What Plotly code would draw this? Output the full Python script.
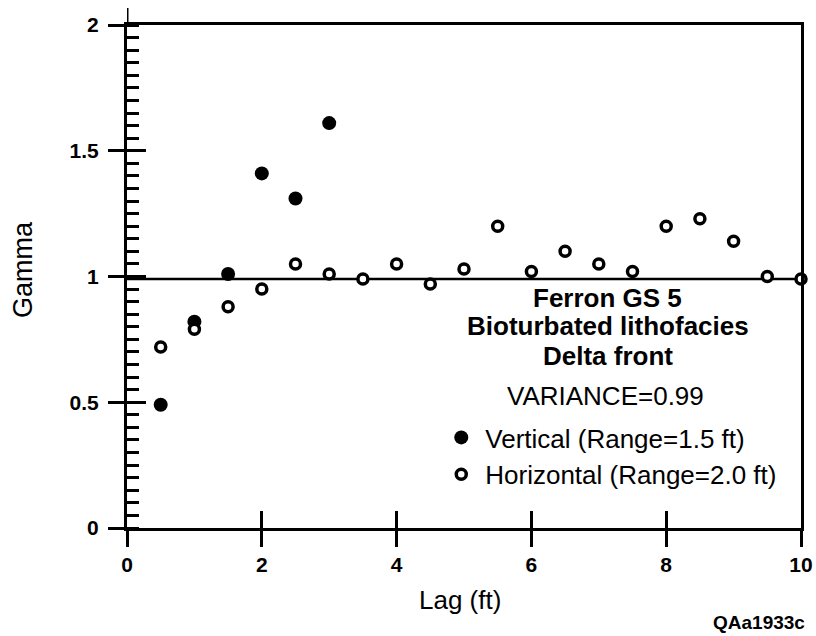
import plotly.graph_objects as go

# ---- data ----
VERT_LAG = [0.5, 1.0, 1.5, 2.0, 2.5, 3.0]
VERT_GAMMA = [0.49, 0.82, 1.01, 1.41, 1.31, 1.61]

HORIZ_LAG = [0.5, 1.0, 1.5, 2.0, 2.5, 3.0, 3.5, 4.0, 4.5, 5.0,
             5.5, 6.0, 6.5, 7.0, 7.5, 8.0, 8.5, 9.0, 9.5, 10.0]
HORIZ_GAMMA = [0.72, 0.79, 0.88, 0.95, 1.05, 1.01, 0.99, 1.05, 0.97, 1.03,
               1.20, 1.02, 1.10, 1.05, 1.02, 1.20, 1.23, 1.14, 1.00, 0.99]

VARIANCE = 0.99
X_RANGE = [0, 10]
Y_RANGE = [0, 2]
X_TICKS = [0, 2, 4, 6, 8, 10]
Y_TICKS = [0, 0.5, 1, 1.5, 2]
Y_TICK_TEXT = ["0", "0.5", "1", "1.5", "2"]

TITLE_LINES = ["Ferron GS 5", "Bioturbated lithofacies", "Delta front"]
VARIANCE_LABEL = "VARIANCE=0.99"
VERT_NAME = "Vertical (Range=1.5 ft)"
HORIZ_NAME = "Horizontal (Range=2.0 ft)"
X_TITLE = "Lag (ft)"
Y_TITLE = "Gamma"
FIG_ID = "QAa1933c"

# ---- layout geometry ----
W, H = 816, 636
ML, MR, MT, MB = 126.5, 15, 25, 108
PW, PH = W - ML - MR, H - MT - MB
FONT = "Liberation Sans"


def px_x(px):
    return (px - ML) / PW


def px_y(py):
    return (H - MB - py) / PH


fig = go.Figure()

fig.add_trace(go.Scatter(
    x=VERT_LAG, y=VERT_GAMMA, mode="markers", name=VERT_NAME,
    marker=dict(symbol="circle", size=14, color="black", line=dict(width=0)),
    cliponaxis=False, legendgroup="v", xaxis="x", yaxis="y",
))
fig.add_trace(go.Scatter(
    x=HORIZ_LAG, y=HORIZ_GAMMA, mode="markers", name=HORIZ_NAME,
    marker=dict(symbol="circle", size=10, color="white",
                line=dict(width=3.5, color="black")),
    cliponaxis=False, legendgroup="h", xaxis="x2", yaxis="y2",
))

fig.add_hline(y=VARIANCE, line=dict(color="black", width=2.5), layer="below")

axis_common = dict(showgrid=False, zeroline=False, tickcolor="black",
                   tickwidth=3, automargin=False)

fig.update_layout(
    width=W, height=H,
    margin=dict(l=ML, r=MR, t=MT, b=MB, pad=0, autoexpand=False),
    paper_bgcolor="white", plot_bgcolor="white",
    font=dict(family=FONT, color="black", size=26),
    showlegend=True,
    legend=dict(
        x=px_x(437), y=px_y(414), xanchor="left", yanchor="top",
        bgcolor="rgba(0,0,0,0)", borderwidth=0,
        font=dict(family=FONT, size=26, color="black"),
        tracegroupgap=0, itemwidth=38, traceorder="grouped",
    ),
    xaxis=dict(
        range=X_RANGE, tickmode="array", tickvals=X_TICKS,
        ticks="outside", ticklen=16, showline=True, linewidth=3,
        linecolor="black", mirror=True, ticklabelstandoff=0,
        tickfont=dict(family=FONT, size=21, weight="bold"),
        **axis_common,
    ),
    xaxis2=dict(
        range=X_RANGE, overlaying="x", matches="x", anchor="y",
        tickmode="array", tickvals=X_TICKS, ticks="inside", ticklen=17,
        showticklabels=False, showline=False, **axis_common,
    ),
    yaxis=dict(
        range=Y_RANGE, tickmode="array", tickvals=Y_TICKS,
        ticktext=Y_TICK_TEXT,
        ticks="outside", ticklen=16, showline=True, linewidth=3,
        linecolor="black", mirror=True, ticklabelstandoff=5,
        tickfont=dict(family=FONT, size=21, weight="bold"),
        minor=dict(ticks="inside", dtick=0.05, tick0=0, ticklen=12,
                   tickwidth=3, tickcolor="black", showgrid=False),
        **axis_common,
    ),
    yaxis2=dict(
        range=Y_RANGE, overlaying="y", matches="y", anchor="x",
        tickmode="array", tickvals=Y_TICKS, ticks="inside", ticklen=19,
        showticklabels=False, showline=False, **axis_common,
    ),
)

# y-axis line overshoot above the top frame
fig.add_shape(type="line", xref="x", yref="paper", x0=0, x1=0,
              y0=1, y1=px_y(8), line=dict(color="black", width=3))

# annotation block (title lines + variance)
title_y = [297.5, 326.5, 355.5]
for txt, yy in zip(TITLE_LINES, title_y):
    fig.add_annotation(text=txt, xref="paper", yref="paper",
                       x=px_x(607.5), y=px_y(yy), xanchor="center",
                       yanchor="middle", showarrow=False,
                       font=dict(family=FONT, size=26, weight="bold"))
fig.add_annotation(text=VARIANCE_LABEL, xref="paper", yref="paper",
                   x=px_x(605.5), y=px_y(396.5), xanchor="center",
                   yanchor="middle", showarrow=False,
                   font=dict(family=FONT, size=26))

# axis titles
fig.add_annotation(text=Y_TITLE, xref="paper", yref="paper",
                   x=px_x(22.5), y=px_y(270), textangle=-90,
                   xanchor="center", yanchor="middle", showarrow=False,
                   font=dict(family=FONT, size=27))
fig.add_annotation(text=X_TITLE, xref="paper", yref="paper",
                   x=px_x(459.5), y=px_y(600), xanchor="center",
                   yanchor="middle", showarrow=False,
                   font=dict(family=FONT, size=26))
fig.add_annotation(text=FIG_ID, xref="paper", yref="paper",
                   x=px_x(759), y=px_y(622), xanchor="center",
                   yanchor="middle", showarrow=False,
                   font=dict(family=FONT, size=19, weight="bold"))

fig.write_html(
    "out.html",
    config={"displayModeBar": False},
    post_script="document.body.style.margin='0';"
                "document.documentElement.style.overflow='hidden';",
)
